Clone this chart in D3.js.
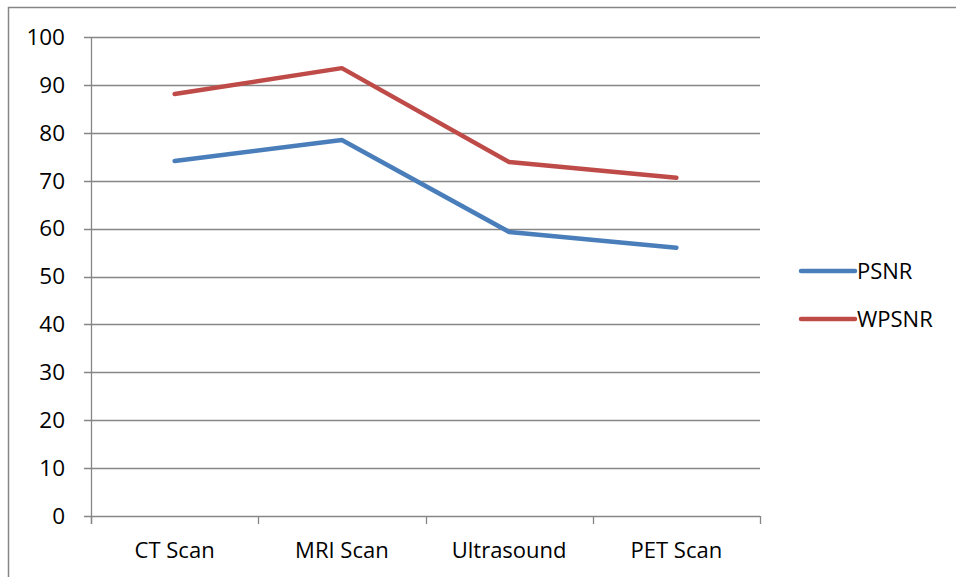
<!DOCTYPE html>
<html>
<head>
<meta charset="utf-8">
<script src="https://cdn.jsdelivr.net/npm/d3@7"></script>
<style>
  body { margin: 0; background: #fff; }
  svg text { font-family: "Open Sans", "Liberation Sans", sans-serif; fill: #000; }
</style>
</head>
<body>
<svg id="chart" width="956" height="577"></svg>
<script>
var categories = ["CT Scan", "MRI Scan", "Ultrasound", "PET Scan"];
var psnr = [74.1, 78.5, 59.3, 56.0];
var wpsnr = [88.1, 93.5, 73.9, 70.6];
var seriesNames = ["PSNR", "WPSNR"];
var yTicks = [0, 10, 20, 30, 40, 50, 60, 70, 80, 90, 100];

var colors = ["#4a7ebb", "#be4b48"];
var svg = d3.select("#chart");

// outer chart frame
svg.append("rect")
  .attr("x", 8.5).attr("y", 7.5)
  .attr("width", 1000).attr("height", 1000)
  .attr("fill", "none").attr("stroke", "#868686").attr("stroke-width", 1.5);

var plotL = 91, plotR = 760, plotT = 37, plotB = 516;

var x = d3.scaleBand().domain(categories).range([plotL, plotR]);
var y = d3.scaleLinear().domain([0, 100]).range([plotB, plotT]);

// gridlines
svg.append("g").selectAll("line")
  .data(yTicks)
  .enter().append("line")
    .attr("x1", plotL - 7).attr("x2", plotR)
    .attr("y1", function(d) { return Math.round(y(d)) + 0.5; })
    .attr("y2", function(d) { return Math.round(y(d)) + 0.5; })
    .attr("stroke", "#868686").attr("stroke-width", 1.3);

// y axis line
svg.append("line")
  .attr("x1", plotL + 0.5).attr("x2", plotL + 0.5)
  .attr("y1", plotT).attr("y2", plotB + 8)
  .attr("stroke", "#868686").attr("stroke-width", 1.3);

// x category ticks
var xEdges = categories.map(function(c) { return x(c); }).concat([plotR]);
svg.append("g").selectAll("line")
  .data(xEdges)
  .enter().append("line")
    .attr("x1", function(d) { return Math.round(d) + 0.5; })
    .attr("x2", function(d) { return Math.round(d) + 0.5; })
    .attr("y1", plotB).attr("y2", plotB + 8)
    .attr("stroke", "#868686").attr("stroke-width", 1.3);

// y labels
svg.append("g").selectAll("text")
  .data(yTicks)
  .enter().append("text")
    .attr("x", 65).attr("y", function(d) { return y(d); })
    .attr("dy", "0.35em")
    .attr("text-anchor", "end")
    .style("font-size", "22.5px")
    .text(function(d) { return d; });

// x labels
svg.append("g").selectAll("text")
  .data(categories)
  .enter().append("text")
    .attr("x", function(d) { return x(d) + x.bandwidth() / 2; })
    .attr("y", 558)
    .attr("text-anchor", "middle")
    .style("font-size", "22px")
    .text(function(d) { return d; });

var line = d3.line()
  .x(function(d, i) { return x(categories[i]) + x.bandwidth() / 2; })
  .y(function(d) { return y(d); });

[psnr, wpsnr].forEach(function(s, i) {
  svg.append("path")
    .datum(s)
    .attr("d", line)
    .attr("fill", "none")
    .attr("stroke", colors[i])
    .attr("stroke-width", 4.5)
    .attr("stroke-linejoin", "round")
    .attr("stroke-linecap", "round");
});

// legend
var legend = svg.append("g").selectAll("g")
  .data(seriesNames)
  .enter().append("g")
    .attr("transform", function(d, i) { return "translate(801," + (271 + i * 48) + ")"; });
legend.append("line")
  .attr("x1", 0).attr("x2", 54)
  .attr("stroke", function(d, i) { return colors[i]; })
  .attr("stroke-width", 4.5)
  .attr("stroke-linecap", "round");
legend.append("text")
  .attr("x", 56).attr("dy", "0.35em")
  .style("font-size", "22px")
  .text(function(d) { return d; });
</script>
</body>
</html>
